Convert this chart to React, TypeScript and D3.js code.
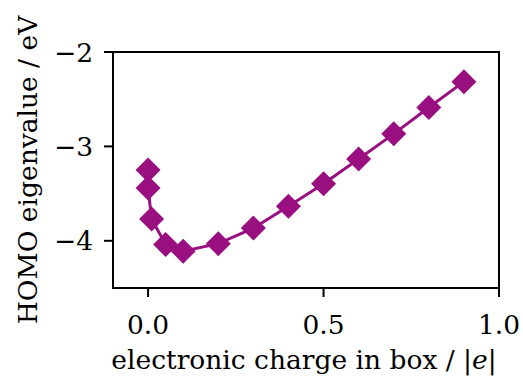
import React from "react";
import * as d3 from "d3";

// Charge in the box (|e|) and the HOMO eigenvalue (eV) at each charge
const charge = [0.0, 0.0, 0.01, 0.05, 0.1, 0.2, 0.3, 0.4, 0.5, 0.6, 0.7, 0.8, 0.9];
const homo = [-3.25, -3.44, -3.77, -4.04, -4.11, -4.03, -3.865, -3.635, -3.395, -3.134, -2.867, -2.588, -2.314];

const xTicks = [0.0, 0.5, 1.0];
const yTicks = [-2, -3, -4];

const W = 523;
const H = 376;
const margin = { left: 113, right: 24, top: 52, bottom: 88 };
const color = "#990f80";
const font = "'DejaVu Serif', serif";
const fs = 26.5;

export default function App() {
  const x = d3.scaleLinear().domain([-0.1, 1.0]).range([margin.left, W - margin.right]);
  const y = d3.scaleLinear().domain([-4.5, -2]).range([H - margin.bottom, margin.top]);
  const pts = charge.map((c, i) => [x(c), y(homo[i])] as [number, number]);
  const line = d3.line()(pts) || "";
  const r = 12.5;
  const x0 = margin.left, x1 = W - margin.right, y0 = margin.top, y1 = H - margin.bottom;

  return (
    <svg width={W} height={H} style={{ position: "absolute", left: 0, top: 0 }}>
      <rect width={W} height={H} fill="white" />
      <path d={line} fill="none" stroke={color} strokeWidth={3} />
      {pts.map(([px, py], i) => (
        <path key={i} d={`M${px},${py - r}L${px + r},${py}L${px},${py + r}L${px - r},${py}Z`} fill={color} />
      ))}
      <rect x={x0} y={y0} width={x1 - x0} height={y1 - y0} fill="none" stroke="black" strokeWidth={2} />
      {xTicks.map((t) => (
        <g key={t}>
          <line x1={x(t)} x2={x(t)} y1={y1} y2={y1 + 9} stroke="black" strokeWidth={2} />
          <text x={x(t)} y={y1 + 46} textAnchor="middle" fontFamily={font} fontSize={fs} fill="black">
            {d3.format(".1f")(t)}
          </text>
        </g>
      ))}
      {yTicks.map((t) => (
        <g key={t}>
          <line x1={x0 - 9} x2={x0} y1={y(t)} y2={y(t)} stroke="black" strokeWidth={2} />
          <text x={x0 - 20} y={y(t) + 9.5} textAnchor="end" fontFamily={font} fontSize={fs} fill="black">
            {"\u2212" + Math.abs(t)}
          </text>
        </g>
      ))}
      <text x={(x0 + x1) / 2 - 2} y={369} textAnchor="middle" fontFamily={font} fontSize={fs} fill="black">
        electronic charge in box / |<tspan fontStyle="italic">e</tspan>|
      </text>
      <text
        transform={`translate(37,${(y0 + y1) / 2}) rotate(-90)`}
        textAnchor="middle"
        fontFamily={font}
        fontSize={fs}
        fill="black"
      >
        HOMO eigenvalue / eV
      </text>
    </svg>
  );
}
